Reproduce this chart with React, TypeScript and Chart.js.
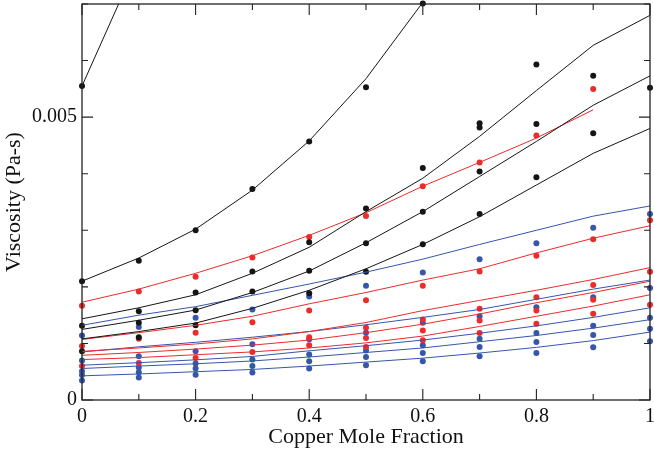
import React, { useEffect, useRef } from "react";
import { Chart, registerables } from "chart.js";

Chart.register(...registerables);

// Copper mole fraction at which every viscosity series is sampled
const moleFraction = [0, 0.1, 0.2, 0.3, 0.4, 0.5, 0.6, 0.7, 0.8, 0.9, 1.0];

// Model curves (Pa-s)
const blackFitA = [0.00555, 0.0078];
const blackFitB = [0.0021, 0.00251, 0.00302, 0.00371, 0.00458, 0.00568, 0.00703];
const blackFitC = [0.001435, 0.00163, 0.00186, 0.00224, 0.0027, 0.00333, 0.00392, 0.00466, 0.00547, 0.00627, 0.0068];
const blackFitD = [0.001248, 0.00141, 0.00159, 0.0019, 0.00228, 0.00278, 0.00333, 0.00395, 0.00457, 0.00521, 0.00573];
const blackFitE = [0.00108, 0.00121, 0.00136, 0.00162, 0.00194, 0.00232, 0.00275, 0.00324, 0.0038, 0.00436, 0.0048];

const redFit1 = [0.001728, 0.00196, 0.00224, 0.00255, 0.00291, 0.00331, 0.00378, 0.0042, 0.00463, 0.00513, null];
const redFit2 = [0.00107, 0.00119, 0.00132, 0.00148, 0.0017, 0.0019, 0.00212, 0.00232, 0.0026, 0.00286, 0.00308];
const redFit3 = [0.00086, 0.00092, 0.00099, 0.00108, 0.00121, 0.00137, 0.00158, 0.00176, 0.00194, 0.00213, 0.00234];
const redFit4 = [0.00079, 0.00084, 0.0009, 0.00097, 0.00106, 0.00119, 0.00134, 0.00152, 0.00172, 0.0019, 0.0021];
const redFit5 = [0.000715, 0.00075, 0.0008, 0.00085, 0.00092, 0.00101, 0.00113, 0.0013, 0.00148, 0.00166, 0.00186];

const blueFit1 = [0.00132, 0.0015, 0.00165, 0.00185, 0.00205, 0.00226, 0.00249, 0.00275, 0.003, 0.00325, 0.00343];
const blueFit2 = [0.00085, 0.00094, 0.00102, 0.00111, 0.00121, 0.00133, 0.00146, 0.0016, 0.00178, 0.00196, 0.00212];
const blueFit3 = [0.000615, 0.00066, 0.00071, 0.00077, 0.00087, 0.00096, 0.00106, 0.00118, 0.00131, 0.00146, 0.00163];
const blueFit4 = [0.000557, 0.0006, 0.00064, 0.00069, 0.00076, 0.00084, 0.00092, 0.00103, 0.00114, 0.00127, 0.00142];
const blueFit5 = [0.000427, 0.00046, 0.0005, 0.00054, 0.0006, 0.00067, 0.00074, 0.00083, 0.00093, 0.00105, 0.0012];

// Measured viscosities (Pa-s)
const blackObsA = [0.00555];
const blackObsB = [0.002097, 0.00246, 0.003, 0.003731, 0.00457, 0.00553, 0.00701];
const blackObs1 = [0.001313, 0.00157, 0.0019, 0.00227, 0.00279, 0.003387, 0.0041, 0.00489, 0.00593, 0.00573, 0.00552];
const blackObs2 = [0.000861, 0.001365, 0.001587, 0.00192, 0.002285, 0.002771, 0.003327, 0.004815, 0.00488, 0.004716, null];
const blackObs3 = [null, 0.00111, 0.001323, null, 0.001886, 0.002267, 0.002754, 0.00404, 0.003937, null, null];
const blackObs4 = [null, null, null, null, null, null, null, 0.00329, null, null, null];

const redObs1 = [0.001664, 0.00192, 0.00218, 0.00252, 0.00288, 0.003251, 0.003779, 0.0042, 0.004675, 0.005496, null];
const redObs2 = [0.000955, 0.001084, 0.00119, 0.001376, 0.00158, 0.001763, 0.002021, 0.002273, 0.002548, 0.002842, 0.003176];
const redObs3 = [0.000603, 0.000656, 0.000744, 0.000849, 0.00111, 0.001277, 0.001424, 0.001611, 0.001816, 0.002033, 0.002267];
const redObs4 = [null, null, null, null, 0.000967, 0.001095, 0.00123, 0.001406, 0.00158, 0.00177, 0.001682];
const redObs5 = [null, null, null, null, null, 0.000937, 0.001055, 0.001183, 0.001348, 0.001523, null];

const blueObs1 = [0.001142, 0.001289, 0.001453, 0.0016, 0.001828, 0.002021, 0.002255, 0.00249, 0.00277, 0.003046, 0.00329];
const blueObs2 = [0.000697, 0.000773, 0.000861, 0.000984, 0.001072, 0.00119, 0.001365, 0.001482, 0.00164, 0.001816, 0.00198];
const blueObs3 = [0.00051, 0.000575, 0.000645, 0.000715, 0.000803, 0.000873, 0.000967, 0.001084, 0.001183, 0.001313, 0.001453];
const blueObs4 = [0.00044, 0.000492, 0.000557, 0.000603, 0.000685, 0.000761, 0.000831, 0.000937, 0.001025, 0.001148, 0.00126];
const blueObs5 = [0.000346, 0.000399, 0.000445, 0.000487, 0.000557, 0.000615, 0.000685, 0.000773, 0.000831, 0.000931, 0.001037];

const BLACK = "#151515";
const RED = "#ec2b2b";
const BLUE = "#3656ab";
const SERIF = "'Liberation Serif', 'Times New Roman', serif";

const toPoints = (ys: (number | null)[]) =>
  ys
    .map((y, i) => (y == null ? null : { x: moleFraction[i], y }))
    .filter((p) => p !== null) as { x: number; y: number }[];

const fit = (ys: (number | null)[], color: string) => ({
  data: toPoints(ys),
  showLine: true,
  borderColor: color,
  borderWidth: 1,
  pointRadius: 0,
  fill: false,
});

const obs = (ys: (number | null)[], color: string) => ({
  data: toPoints(ys),
  showLine: false,
  pointRadius: 3,
  pointBackgroundColor: color,
  pointBorderColor: color,
  pointBorderWidth: 0,
  clip: false as const,
});

// Frame with inward major/minor tick marks on all four sides
const framePlugin = {
  id: "frame",
  afterDatasetsDraw(chart: any) {
    const { ctx, chartArea: a, scales } = chart;
    const xs = scales.x;
    const ys = scales.y;
    ctx.save();
    ctx.strokeStyle = "#222";
    ctx.lineWidth = 1.3;
    ctx.strokeRect(a.left, a.top, a.right - a.left, a.bottom - a.top);
    ctx.lineWidth = 1.1;
    ctx.beginPath();
    for (let i = 0; i <= 10; i++) {
      const px = xs.getPixelForValue(i / 10);
      const len = i % 2 === 0 ? 11 : 6;
      ctx.moveTo(px, a.bottom);
      ctx.lineTo(px, a.bottom - len);
      ctx.moveTo(px, a.top);
      ctx.lineTo(px, a.top + len);
    }
    for (let j = 0; j <= 7; j++) {
      const py = ys.getPixelForValue(j * 0.001);
      const len = j % 5 === 0 ? 11 : 6;
      ctx.moveTo(a.left, py);
      ctx.lineTo(a.left + len, py);
      ctx.moveTo(a.right, py);
      ctx.lineTo(a.right - len, py);
    }
    ctx.stroke();
    ctx.restore();
  },
};

export default function App() {
  const canvasRef = useRef<HTMLCanvasElement | null>(null);

  useEffect(() => {
    const canvas = canvasRef.current;
    if (!canvas) return;

    const datasets: any[] = [
      fit(blackFitA, BLACK),
      fit(blackFitB, BLACK),
      fit(blackFitC, BLACK),
      fit(blackFitD, BLACK),
      fit(blackFitE, BLACK),
      fit(redFit1, RED),
      fit(redFit2, RED),
      fit(redFit3, RED),
      fit(redFit4, RED),
      fit(redFit5, RED),
      fit(blueFit1, BLUE),
      fit(blueFit2, BLUE),
      fit(blueFit3, BLUE),
      fit(blueFit4, BLUE),
      fit(blueFit5, BLUE),
      obs(blackObsA, BLACK),
      obs(blackObsB, BLACK),
      obs(blackObs1, BLACK),
      obs(blackObs2, BLACK),
      obs(blackObs3, BLACK),
      obs(blackObs4, BLACK),
      obs(redObs1, RED),
      obs(redObs2, RED),
      obs(redObs3, RED),
      obs(redObs4, RED),
      obs(redObs5, RED),
      obs(blueObs1, BLUE),
      obs(blueObs2, BLUE),
      obs(blueObs3, BLUE),
      obs(blueObs4, BLUE),
      obs(blueObs5, BLUE),
    ];

    const chart = new Chart(canvas, {
      type: "scatter",
      data: { datasets },
      plugins: [framePlugin],
      options: {
        responsive: false,
        animation: false,
        layout: { padding: { top: 1, right: 1, left: 0, bottom: 0 } },
        plugins: { legend: { display: false }, tooltip: { enabled: false } },
        scales: {
          x: {
            type: "linear",
            position: "bottom",
            min: 0,
            max: 1,
            afterFit: (s: any) => {
              s.height = 50;
              s.paddingLeft = 0;
              s.paddingRight = 0;
            },
            grid: { display: false, drawTicks: false, tickLength: 0 },
            border: { display: false },
            ticks: {
              stepSize: 0.2,
              padding: 5,
              autoSkip: false,
              maxRotation: 0,
              color: "#111",
              font: { family: SERIF, size: 20 },
              callback: (v: any) => String(Math.round(Number(v) * 10) / 10),
            },
            title: {
              display: true,
              text: "Copper Mole Fraction",
              color: "#111",
              font: { family: SERIF, size: 22 },
              padding: { top: 0, bottom: 0 },
            },
          },
          y: {
            type: "linear",
            min: 0,
            max: 0.007,
            afterFit: (s: any) => {
              s.width = 82;
              s.paddingTop = 0;
              s.paddingBottom = 0;
            },
            grid: { display: false, drawTicks: false, tickLength: 0 },
            border: { display: false },
            ticks: {
              stepSize: 0.001,
              padding: 5,
              autoSkip: false,
              color: "#111",
              font: { family: SERIF, size: 20 },
              callback: (v: any) => {
                const n = Number(v);
                if (Math.abs(n) < 1e-9) return "0";
                if (Math.abs(n - 0.005) < 1e-9) return "0.005";
                return "";
              },
            },
            title: {
              display: true,
              text: "Viscosity (Pa-s)",
              color: "#111",
              font: { family: SERIF, size: 22 },
              padding: { top: 1, bottom: 0 },
            },
          },
        },
      },
    });

    return () => chart.destroy();
  }, []);

  return (
    <div style={{ position: "fixed", left: 0, top: 0, width: 654, height: 450, background: "#fff" }}>
      <canvas ref={canvasRef} width={654} height={450} style={{ display: "block" }} />
    </div>
  );
}
